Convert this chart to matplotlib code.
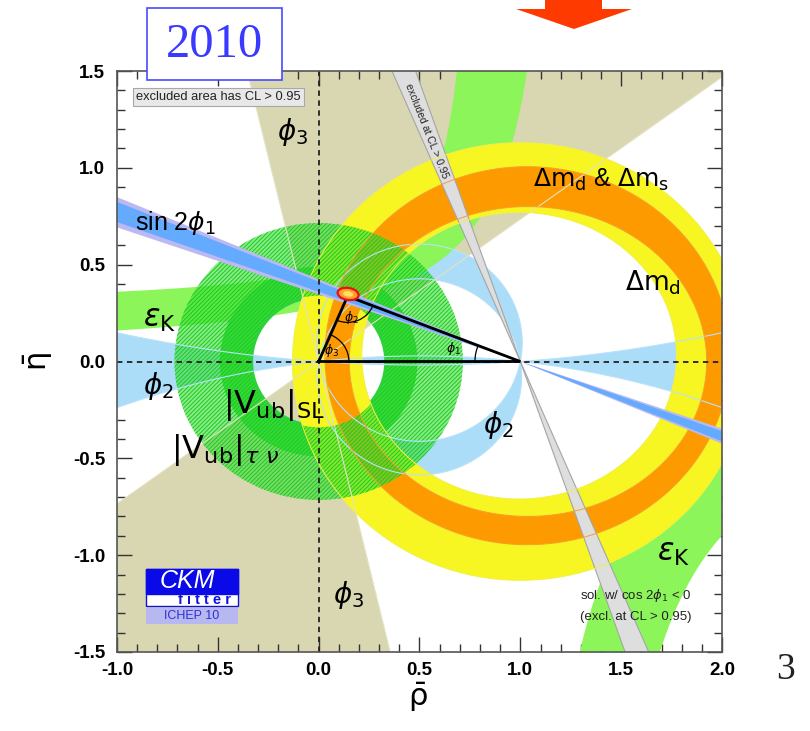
import numpy as np
import matplotlib
matplotlib.use("Agg")
import matplotlib.pyplot as plt
from matplotlib.patches import Polygon, Wedge, Ellipse, Rectangle, PathPatch, Arc
from matplotlib.path import Path
from matplotlib.ticker import MultipleLocator, FormatStrFormatter

plt.rcParams['font.family'] = ['Liberation Sans', 'DejaVu Sans']
plt.rcParams['mathtext.fontset'] = 'dejavusans'
plt.rcParams['axes.unicode_minus'] = False
plt.rcParams['hatch.linewidth'] = 0.7

# ---------------- data ----------------
x_range = [-1.0, 2.0]
y_range = [-1.5, 1.5]
x_ticks = [-1.0, -0.5, 0.0, 0.5, 1.0, 1.5, 2.0]
y_ticks = [-1.5, -1.0, -0.5, 0.0, 0.5, 1.0, 1.5]

apex = [0.143, 0.337]
phi3_deg = [36.3, 103.3]                       # gamma wedge from origin (and +180)
phi2_bands_deg = [[79.0, 99.0], [-101.0, -81.0], [-6.6, 4.2], [173.4, 180.0], [-180.0, -175.8]]
phi2_circle_deg = [79.0, 99.0, 4.2, -6.6]
sin2phi1_outer_deg = [19.1, 23.0]
sin2phi1_inner_deg = [19.8, 22.4]
cos2phi1_neg_deg = [67.0, 70.9]
dmd_outer = [1.0, 0.0, 1.13, 1.13]             # cx, cy, a, b
dmd_inner = [0.994, 0.03, 0.78, 0.74]
dms_outer = [1.035, 0.03, 1.004, 0.976]
dms_inner = [1.038, 0.0, 0.886, 0.80]
vub_sl_r = [0.325, 0.49]
vub_taunu_r = [0.34, 0.715]
epsk_up_outer = [0.164, 0.819, 0.27]           # eta = k/(a-rho)+m
epsk_up_inner = [0.334, 1.258, 0.012]
epsk_lo_inner = [0.489, 0.969]                 # rho = a + k/(-eta)
epsk_lo_outer = [0.69, 1.232]

# ---------------- colours ----------------
TAN = '#d9d7b2'
LBLUE = '#abdcf8'
EPSK = '#8cf55a'
SLG = '#2cd23a'
YEL = '#f7f522'
ORA = '#fd9a00'
GRAY = '#dedede'
BLUE = '#64aaff'
LAV = '#bcb8f2'

W, H = 810, 731
fig = plt.figure(figsize=(W / 100, H / 100), dpi=100)
ax = fig.add_axes([117 / W, 1 - 652 / H, 605 / W, 581 / H])
ax.set_xlim(*x_range)
ax.set_ylim(*y_range)

L = 6.0


def sector(cx, cy, r, a0, a1, n=80):
    t = np.radians(np.linspace(a0, a1, n))
    pts = [(cx, cy)] + list(zip(cx + r * np.cos(t), cy + r * np.sin(t)))
    return np.array(pts)


def ring_path(outer, inner, n=361):
    t = np.linspace(0, 2 * np.pi, n)
    o = np.column_stack([outer[0] + outer[2] * np.cos(t), outer[1] + outer[3] * np.sin(t)])
    tr = t[::-1]
    i = np.column_stack([inner[0] + inner[2] * np.cos(tr), inner[1] + inner[3] * np.sin(tr)])
    verts = np.concatenate([o, i])
    codes = np.full(2 * n, Path.LINETO)
    codes[0] = Path.MOVETO
    codes[n - 1] = Path.CLOSEPOLY
    codes[n] = Path.MOVETO
    codes[2 * n - 1] = Path.CLOSEPOLY
    return Path(verts, codes)


# 1. phi3 (tan wedges)
for off in (0, 180):
    ax.add_patch(Polygon(sector(0, 0, L, phi3_deg[0] + off, phi3_deg[1] + off),
                         closed=True, fc=TAN, ec='none', zorder=1))

# 2. phi2 (light blue) from the angle subtended by (0,0)-(1,0)
gx = np.linspace(-1.05, 2.05, 1500)
gy = np.linspace(-1.55, 1.55, 1500)
X, Y = np.meshgrid(gx, gy)
a1 = np.arctan2(-Y, 1 - X)
a0 = np.arctan2(-Y, -X)
alpha = (np.degrees(a1 - a0) + 180) % 360 - 180
mask = np.zeros_like(alpha)
for lo, hi in phi2_bands_deg:
    mask[(alpha >= lo) & (alpha <= hi)] = 1.0
ax.contourf(X, Y, mask, levels=[0.5, 2.0], colors=[LBLUE], zorder=2, antialiased=True)

# 3. epsilon_K (green hyperbolic bands)
k, a, m = epsk_up_outer
r_top_out = a - k / (1.6 - m)
rho_o = np.linspace(-1.2, r_top_out, 300)
eta_o = k / (a - rho_o) + m
k2, a2, m2 = epsk_up_inner
r_top_in = a2 - k2 / (1.6 - m2)
rho_i = np.linspace(r_top_in, -1.2, 300)
eta_i = k2 / (a2 - rho_i) + m2
ax.add_patch(Polygon(np.column_stack([np.concatenate([rho_o, rho_i]), np.concatenate([eta_o, eta_i])]),
                     closed=True, fc=EPSK, ec='none', zorder=3))
eta_l = np.linspace(-1.6, -0.3, 300)
rho_li = epsk_lo_inner[1] + epsk_lo_inner[0] / (-eta_l)
rho_lo = epsk_lo_outer[1] + epsk_lo_outer[0] / (-eta_l)
ax.add_patch(Polygon(np.column_stack([np.concatenate([rho_li, rho_lo[::-1]]),
                                      np.concatenate([eta_l, eta_l[::-1]])]),
                     closed=True, fc=EPSK, ec='none', zorder=3))

# 4. |Vub| SL ring
ax.add_patch(Wedge((0, 0), vub_sl_r[1], 0, 360, width=vub_sl_r[1] - vub_sl_r[0],
                   fc=SLG, ec='none', zorder=4))

# 5-6. Delta m rings
ax.add_patch(PathPatch(ring_path(dmd_outer, dmd_inner), fc=YEL, ec='none', zorder=5))
ax.add_patch(PathPatch(ring_path(dms_outer, dms_inner), fc=ORA, ec='none', zorder=6))

# 7. |Vub| tau nu hatched ring
ax.add_patch(Wedge((0, 0), vub_taunu_r[1], 0, 360, width=vub_taunu_r[1] - vub_taunu_r[0],
                   fc=(0.22, 0.88, 0.22, 0.6), ec='#1ec81e', lw=0, hatch='////////', zorder=7))

# thin contour lines
t = np.linspace(0, 2 * np.pi, 800)
for ang in phi2_circle_deg:
    cy = 0.5 / np.tan(np.radians(ang))
    R = 0.5 / abs(np.sin(np.radians(ang)))
    ax.plot(0.5 + R * np.cos(t), cy + R * np.sin(t), color='#b8e2fa', lw=0.8, zorder=7.5)
for ang in phi3_deg:
    for off in (0, 180):
        th = np.radians(ang + off)
        ax.plot([0, L * np.cos(th)], [0, L * np.sin(th)], color='#e4e2c4', lw=0.8, zorder=7.5)

# 8. cos 2phi1 < 0 strip (grey)
for side in (0, 1):
    th0 = 180 - cos2phi1_neg_deg[0] if side == 0 else -cos2phi1_neg_deg[0]
    th1 = 180 - cos2phi1_neg_deg[1] if side == 0 else -cos2phi1_neg_deg[1]
    ax.add_patch(Polygon(sector(1, 0, L, th0, th1, n=3), closed=True, fc=GRAY, ec='none', zorder=8))
for ang in cos2phi1_neg_deg:
    for th in (180 - ang, -ang):
        r = np.radians(th)
        ax.plot([1, 1 + L * np.cos(r)], [0, L * np.sin(r)], color='#a5a5a5', lw=0.8, zorder=8.1)
for ring, col in ((dmd_outer, '#f2f04a'), (dmd_inner, '#f2f04a'), (dms_outer, '#f5a030'), (dms_inner, '#f5a030')):
    ax.plot(ring[0] + ring[2] * np.cos(t), ring[1] + ring[3] * np.sin(t), color=col, lw=0.7, zorder=8.2)

# 9. sin 2phi1 (blue)
for rng, col in ((sin2phi1_outer_deg, LAV), (sin2phi1_inner_deg, BLUE)):
    ax.add_patch(Polygon(sector(1, 0, L, 180 - rng[0], 180 - rng[1], n=3), closed=True, fc=col, ec='none', zorder=9))
    ax.add_patch(Polygon(sector(1, 0, L, -rng[0], -rng[1], n=3), closed=True, fc=col, ec='none', zorder=9))

# dashed axes
ax.axvline(0, color='#222222', lw=1.3, ls=(0, (3, 2.5)), zorder=10)
ax.axhline(0, color='#222222', lw=1.3, ls=(0, (3, 2.5)), zorder=10)

# triangle + angle arcs
tri = np.array([[0, 0], [1, 0], apex, [0, 0]])
ax.plot(tri[:, 0], tri[:, 1], color='black', lw=2.0, zorder=11, solid_joinstyle='miter')
ang_apex = np.degrees(np.arctan2(apex[1], apex[0]))
to1 = np.degrees(np.arctan2(-apex[1], 1 - apex[0]))
to0 = np.degrees(np.arctan2(-apex[1], -apex[0]))
ax.add_patch(Arc((0, 0), 0.30, 0.30, theta1=0, theta2=ang_apex, color='black', lw=0.9, zorder=11))
ax.add_patch(Arc(tuple(apex), 0.27, 0.27, theta1=to0, theta2=to1, color='black', lw=0.9, zorder=11))
ax.add_patch(Arc((1, 0), 0.45, 0.45, theta1=180 + to1, theta2=180, color='black', lw=0.9, zorder=11))
ax.text(0.667, 0.067, r'$\phi_1$', fontsize=9, ha='center', va='center', zorder=12)
ax.text(0.163, 0.229, r'$\phi_2$', fontsize=9, ha='center', va='center', zorder=12)
ax.text(0.066, 0.057, r'$\phi_3$', fontsize=9, ha='center', va='center', zorder=12)

# apex fit contour
ax.add_patch(Ellipse((apex[0] + 0.003, apex[1] + 0.012), 0.105, 0.062, angle=-10,
                     fc='#ffa030', ec='#ee1010', lw=1.6, zorder=12))
ax.add_patch(Ellipse((apex[0] + 0.003, apex[1] + 0.012), 0.05, 0.028, angle=-10,
                     fc='#ffe060', ec='none', zorder=12.5))

# ---------------- labels ----------------
big = dict(color='black', zorder=13, ha='left', va='baseline')
ax.text(-0.91, 0.678, r'sin 2$\phi_1$', fontsize=18, **big)
ax.text(-0.87, 0.177, r'$\varepsilon_\mathrm{K}$', fontsize=22, **big)
ax.text(-0.87, -0.166, r'$\phi_2$', fontsize=20, **big)
ax.text(-0.207, 1.143, r'$\phi_3$', fontsize=20, **big)
ax.text(0.071, -1.245, r'$\phi_3$', fontsize=20, **big)
ax.text(0.815, -0.367, r'$\phi_2$', fontsize=20, **big)
ax.text(1.063, 0.90, r'$\Delta\mathrm{m}_\mathrm{d}$ & $\Delta\mathrm{m}_\mathrm{s}$', fontsize=18, **big)
ax.text(1.518, 0.367, r'$\Delta\mathrm{m}_\mathrm{d}$', fontsize=19, **big)
ax.text(1.677, -1.03, r'$\varepsilon_\mathrm{K}$', fontsize=22, **big)
ax.text(-0.475, -0.264, r'$|\mathrm{V}_\mathrm{ub}|_\mathrm{SL}$', fontsize=23, **big)
ax.text(-0.73, -0.50, r'$|\mathrm{V}_\mathrm{ub}|_{\tau\ \nu}$', fontsize=23, **big)
ax.text(1.295, -1.224, r'sol. w/ cos 2$\phi_1$ < 0', fontsize=9.5, color='#222222', zorder=13)
ax.text(1.295, -1.335, '(excl. at CL > 0.95)', fontsize=9.5, color='#222222', zorder=13)
ax.text(0.535, 1.19, 'excluded at CL > 0.95', fontsize=7.5, color='#222222', rotation=-68.3,
        rotation_mode='anchor', ha='center', va='center', zorder=13)
ax.text(-0.905, 1.366, 'excluded area has CL > 0.95', fontsize=9.3, color='#222222', ha='left', va='center',
        zorder=14, bbox=dict(boxstyle='square,pad=0.25', fc='#e8e8e8', ec='#a8a8a8', lw=0.8))

# CKMfitter logo
ax.add_patch(Rectangle((-0.856, -1.262), 0.456, 0.191, fc='white', ec='#1010e0', lw=1.0, zorder=14))
ax.add_patch(Rectangle((-0.856, -1.20), 0.456, 0.129, fc='#0a0ae8', ec='#0a0ae8', lw=1.0, zorder=14.1))
ax.add_patch(Rectangle((-0.856, -1.355), 0.456, 0.082, fc='#b8b8f0', ec='none', zorder=14))
ax.text(-0.653, -1.133, 'CKM', fontsize=18, style='italic', color='white', ha='center', va='center', zorder=15)
ax.text(-0.565, -1.232, 'f i t t e r', fontsize=10.5, weight='bold', color='#1010e0', ha='center', va='center', zorder=15)
ax.text(-0.63, -1.314, 'ICHEP 10', fontsize=9, color='#3030d8', ha='center', va='center', zorder=15)

# ---------------- axes styling ----------------
ax.set_xticks(x_ticks)
ax.set_yticks(y_ticks)
ax.xaxis.set_minor_locator(MultipleLocator(0.1))
ax.yaxis.set_minor_locator(MultipleLocator(0.1))
ax.xaxis.set_major_formatter(FormatStrFormatter('%.1f'))
ax.yaxis.set_major_formatter(FormatStrFormatter('%.1f'))
ax.tick_params(which='both', direction='in', top=True, right=True, color='#333333')
ax.tick_params(which='major', length=11, width=1.0, labelsize=13.5)
ax.tick_params(which='minor', length=5.5, width=1.0)
ax.tick_params(axis='x', pad=7)
ax.tick_params(axis='y', pad=8.5)
for lab in ax.get_xticklabels() + ax.get_yticklabels():
    lab.set_fontweight('bold')
for sp in ax.spines.values():
    sp.set_color('#555555')
    sp.set_linewidth(1.2)
    sp.set_zorder(20)

fig.text(418 / W, 1 - 697 / H, r'$\bar{\mathrm{\rho}}$', fontsize=22, ha='center', va='center')
fig.text(38 / W, 1 - 362 / H, r'$\bar{\mathrm{\eta}}$', fontsize=22, ha='center', va='center', rotation=90)

# ---------------- slide decorations ----------------
fig.add_artist(Rectangle((147 / W, 1 - 80 / H), 135 / W, 72 / H, transform=fig.transFigure,
                         fc='white', ec='#4a4aff', lw=1.2, zorder=30))
fig.text(214.5 / W, 1 - 45 / H, '2010', family='Liberation Serif', fontsize=35, color='#3a3aff',
         ha='center', va='center', zorder=31)
arrow_px = [(545, -2), (602, -2), (602, 9), (632, 9), (574, 29), (516, 9), (545, 9)]
fig.add_artist(Polygon([(x / W, 1 - y / H) for x, y in arrow_px], closed=True, transform=fig.transFigure,
                       fc='#ff3a00', ec='none', zorder=30))
fig.text(786 / W, 1 - 670 / H, '3', family='Liberation Serif', fontsize=27, color='#222222',
         ha='center', va='center')

fig.savefig('out.png', dpi=100)
